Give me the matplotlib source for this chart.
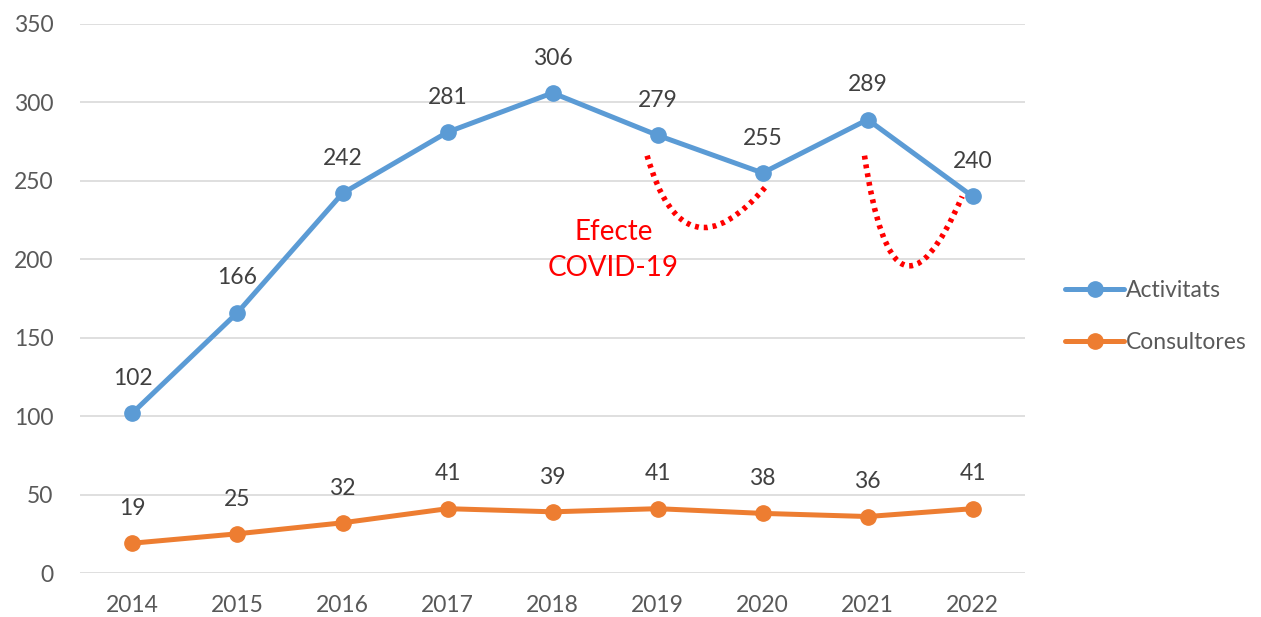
import numpy as np
import matplotlib.pyplot as plt
from matplotlib.path import Path
from matplotlib.patches import PathPatch

plt.rcParams['font.family'] = ['Lato', 'DejaVu Sans']

anys = ['2014', '2015', '2016', '2017', '2018', '2019', '2020', '2021', '2022']
activitats = [102, 166, 242, 281, 306, 279, 255, 289, 240]
consultores = [19, 25, 32, 41, 39, 41, 38, 36, 41]

blau = '#5b9bd5'
taronja = '#ed7d31'

fig = plt.figure(figsize=(12.61, 6.17), dpi=100)
ax = fig.add_axes([0.0634, 0.0713, 0.7496, 0.890])

x = np.arange(len(anys))
ax.plot(x, activitats, color=blau, lw=3.6, marker='o', ms=11, label='Activitats',
        solid_capstyle='round', zorder=3)
ax.plot(x, consultores, color=taronja, lw=3.6, marker='o', ms=11, label='Consultores',
        solid_capstyle='round', zorder=3)

for xi, v in zip(x, activitats):
    ax.annotate(str(v), (xi, v), xytext=(0, 25), textcoords='offset points',
                ha='center', va='center', fontsize=16.5, color='#404040')
for xi, v in zip(x, consultores):
    ax.annotate(str(v), (xi, v), xytext=(0, 25), textcoords='offset points',
                ha='center', va='center', fontsize=16.5, color='#404040')

# corbes puntejades (efecte covid)
for p0, p1, p2 in [((4.90, 266), (5.25, 185), (6.04, 247)),
                   ((6.97, 266), (7.25, 140), (7.90, 240))]:
    path = Path([p0, p1, p2], [Path.MOVETO, Path.CURVE3, Path.CURVE3])
    ax.add_patch(PathPatch(path, fill=False, edgecolor='red', lw=4,
                           linestyle=(0, (0.7, 0.9)), zorder=2))

ax.text(4.58, 206, 'Efecte\nCOVID-19', color='red', fontsize=20,
        ha='center', va='center', linespacing=1.45)

ax.set_xlim(-0.5, 8.5)
ax.set_ylim(0, 350)
ax.set_yticks(range(0, 351, 50))
ax.set_xticks(x)
ax.set_xticklabels(anys)
ax.tick_params(length=0, labelsize=16.5, colors='#595959')
ax.tick_params(axis='x', pad=16)
ax.tick_params(axis='y', pad=19)
ax.grid(axis='y', color='#d9d9d9', lw=1.2)
ax.set_axisbelow(True)
for s in ax.spines.values():
    s.set_visible(False)

fig.legend(loc='center left', bbox_to_anchor=(0.828, 0.487), frameon=False,
           fontsize=16.5, handlelength=2.6, handletextpad=0.05, labelspacing=1.35,
           labelcolor='#595959')

fig.savefig('out.png', dpi=100)
